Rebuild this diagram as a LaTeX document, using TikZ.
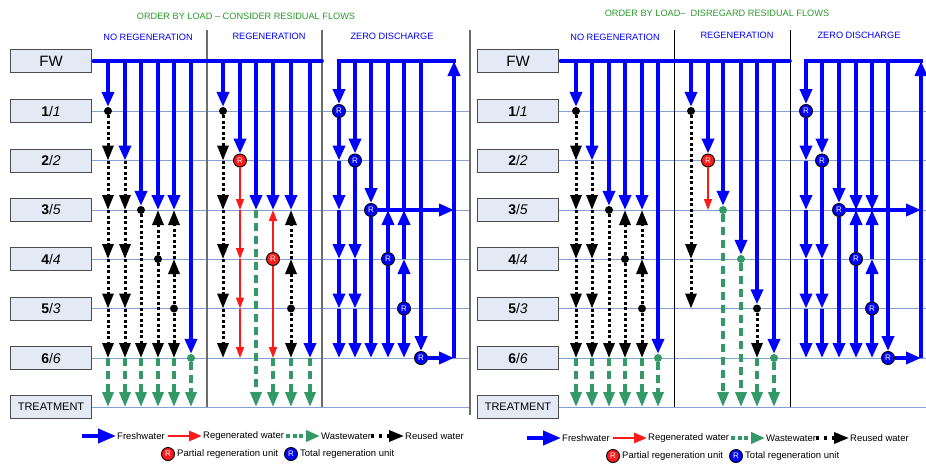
\documentclass[tikz,border=0pt]{standalone}
\usepackage{fontspec}
\setmainfont{Liberation Sans}
\usetikzlibrary{arrows.meta}

\definecolor{fwblue}{RGB}{0,0,255}
\definecolor{wgreen}{RGB}{51,153,102}
\definecolor{rowline}{RGB}{130,160,210}
\definecolor{boxfill}{RGB}{228,234,245}
\definecolor{regred}{RGB}{255,25,25}
\definecolor{hdrgreen}{RGB}{40,155,40}

\tikzset{
  fresh/.style={draw=fwblue, line width=3.6pt, -{Triangle[length=15pt,width=12pt]}},
  freshline/.style={draw=fwblue, line width=3.6pt},
  reuse/.style={draw=black, line width=3pt, dash pattern=on 3pt off 2.5pt, -{Triangle[length=15pt,width=11pt]}},
  regen/.style={draw=regred, line width=1.3pt, -{Triangle[length=11pt,width=8pt]}},
  waste/.style={draw=wgreen, line width=3.4pt, dash pattern=on 8pt off 5pt, -{Triangle[length=15pt,width=11pt]}},
  legfresh/.style={draw=fwblue, line width=4pt, -{Triangle[length=18pt,width=14pt]}},
  legregen/.style={draw=regred, line width=2.8pt, -{Triangle[length=13pt,width=10pt]}},
  legwaste/.style={draw=wgreen, line width=4pt, dash pattern=on 4pt off 2.5pt, -{Triangle[length=14pt,width=11pt]}},
  legreuse/.style={draw=black, line width=3.2pt, dash pattern=on 3.2pt off 5pt, -{Triangle[length=15pt,width=11pt]}},
  rowln/.style={draw=rowline, line width=0.9pt},
  ldiv/.style={draw=gray!85!black, line width=1.1pt},
  rdiv/.style={draw=black, line width=0.9pt},
  labelbox/.style={draw=gray!60!black, fill=boxfill, minimum width=81pt, minimum height=23pt, inner sep=0pt, font=\fontsize{14}{14}\selectfont},
  blackdot/.style={circle, fill=black, inner sep=0pt, minimum size=8pt},
  greendot/.style={circle, fill=wgreen, inner sep=0pt, minimum size=8pt},
  unitR/.style={circle, draw=black, line width=0.9pt, inner sep=0pt, minimum size=13pt, text=white, font=\fontsize{8}{8}\selectfont},
  partR/.style={unitR, fill=regred},
  totalR/.style={unitR, fill=fwblue},
  hdr/.style={text=hdrgreen, font=\fontsize{9.2}{9.2}\selectfont},
  subhdr/.style={text=fwblue, font=\fontsize{9.2}{9.2}\selectfont},
  legtext/.style={font=\fontsize{9.5}{9.5}\selectfont, anchor=west, inner sep=0pt},
}

% No-regeneration block (#1 = panel prefix)
\newcommand\drawNoRegen[1]{%
  \node[blackdot] (#1a1-dot) at (#1a1-1) {};
  \node[blackdot] (#1a3-dot) at (#1a3-3) {};
  \node[blackdot] (#1a4-dot) at (#1a4-4) {};
  \node[blackdot] (#1a5-dot) at (#1a5-5) {};
  \node[greendot] (#1a6-dot) at (#1a6-6) {};
  \draw[fresh] (#1a1-F) -- (#1a1-dot);
  \draw[fresh] (#1a2-F) -- (#1a2-2);
  \draw[fresh] (#1a3-F) -- (#1a3-dot);
  \draw[fresh] (#1a4-F) -- (#1a4-3);
  \draw[fresh] (#1a5-F) -- (#1a5-3);
  \draw[fresh] (#1a6-F) -- (#1a6-dot);
  \draw[reuse] (#1a1-dot) -- (#1a1-2);
  \foreach \i/\j in {2/3,3/4,4/5,5/6}{%
    \draw[reuse] (#1a1-\i) -- (#1a1-\j);
    \draw[reuse] (#1a2-\i) -- (#1a2-\j);}
  \draw[reuse] (#1a3-dot) -- (#1a3-6);
  \draw[reuse] (#1a4-dot) -- (#1a4-3);
  \draw[reuse] (#1a4-dot) -- (#1a4-6);
  \draw[reuse] (#1a5-dot) -- (#1a5-4);
  \draw[reuse] (#1a5-4) -- (#1a5-3);
  \draw[reuse] (#1a5-dot) -- (#1a5-6);
  \foreach \k in {1,...,5} \draw[waste] (#1a\k-6) -- (#1a\k-T);
  \draw[waste] (#1a6-dot) -- (#1a6-T);
}

% Zero-discharge block (#1 = panel prefix, #2 = style of the feeds into row 3)
\newcommand\drawZero[2]{%
  \foreach \k in {1,...,6} \node[totalR] (#1z\k-u) at (#1z\k-\k) {R};
  \draw[freshline, line cap=rect] (#1z1-F) -- (#1z7-F);
  \draw[fresh] (#1z1-F) -- (#1z1-u);
  \draw[fresh] (#1z1-u) -- (#1z1-2);
  \foreach \i/\j in {2/3,3/4,4/5,5/6} \draw[fresh] (#1z1-\i) -- (#1z1-\j);
  \draw[fresh] (#1z2-F) -- (#1z2-u);
  \draw[fresh] (#1z2-u) -- (#1z2-4);
  \draw[fresh] (#1z2-4) -- (#1z2-5);
  \draw[fresh] (#1z2-5) -- (#1z2-6);
  \draw[fresh] (#1z3-F) -- (#1z3-u);
  \draw[fresh] (#1z3-u) -- (#1z7-3);
  \draw[fresh] (#1z3-u) -- (#1z3-6);
  \draw[#2] (#1z4-F) -- (#1z4-3);
  \draw[fresh] (#1z4-u) -- (#1z4-3);
  \draw[fresh] (#1z4-u) -- (#1z4-6);
  \draw[#2] (#1z5-F) -- (#1z5-3);
  \draw[fresh] (#1z5-u) -- (#1z5-4);
  \draw[fresh] (#1z5-4) -- (#1z5-3);
  \draw[fresh] (#1z5-u) -- (#1z5-6);
  \draw[fresh] (#1z6-F) -- (#1z6-u);
  \draw[fresh] (#1z6-u) -- (#1z7-6);
  \draw[fresh] (#1z7-6) -- (#1z7-F);
}

% Legend (#1 = prefix, #2,#3 = origin)
\newcommand\drawLegend[3]{%
  \begin{scope}[shift={(#2,#3)}]
    \coordinate (#1-lf0) at (0,0);   \coordinate (#1-lf1) at (34,0);
    \coordinate (#1-lr0) at (86,0);  \coordinate (#1-lr1) at (120,0);
    \coordinate (#1-lw0) at (204,0); \coordinate (#1-lw1) at (238,0);
    \coordinate (#1-lu0) at (289,0); \coordinate (#1-lu1) at (322,0);
    \draw[legfresh] (#1-lf0) -- (#1-lf1);
    \node[legtext] (#1-tf) at (35,0) {Freshwater};
    \draw[legregen] (#1-lr0) -- (#1-lr1);
    \node[legtext] (#1-tr) at (121,0) {Regenerated water};
    \draw[legwaste] (#1-lw0) -- (#1-lw1);
    \node[legtext] (#1-tw) at (239,0) {Wastewater};
    \draw[legreuse] (#1-lu0) -- (#1-lu1);
    \node[legtext] (#1-tu) at (323,0) {Reused water};
    \node[partR] (#1-lp) at (86,18) {R};
    \node[legtext] (#1-tp) at (95,18) {Partial regeneration unit};
    \node[totalR] (#1-lt) at (209,18) {R};
    \node[legtext] (#1-tt) at (218,18) {Total regeneration unit};
  \end{scope}}

\begin{document}
\begin{tikzpicture}[x=1pt,y=-1pt]
\useasboundingbox (0,0) rectangle (926,463);

% grid of column/row positions
\foreach \c/\x in {La1/108,La2/125,La3/141,La4/158,La5/174,La6/191,
                   Lb1/223,Lb2/240,Lb3/256,Lb4/273,Lb5/291,Lb6/310,
                   Lz1/339,Lz2/355,Lz3/371,Lz4/388,Lz5/404,Lz6/421,Lz7/454,
                   Ld1/207,Ld2/322,Le/470,
                   Ra1/576,Ra2/592,Ra3/609,Ra4/625,Ra5/642,Ra6/658,
                   Rb1/691,Rb2/708,Rb3/723,Rb4/741,Rb5/757,Rb6/774,
                   Rz1/806,Rz2/822,Rz3/839,Rz4/856,Rz5/872,Rz6/888,Rz7/921,
                   Rd1/674,Rd2/790,Re/926}{
  \foreach \r/\y in {H/30,F/61,1/111,2/160.5,3/210,4/259,5/308.5,6/358,T/407}{
    \coordinate (\c-\r) at (\x,\y);}}
\coordinate (sepbot) at (470,415);

% stage boxes
\foreach \p/\bx in {L/51,R/518}{
  \node[labelbox, font=\fontsize{15}{15}\selectfont] (\p-boxF) at (\bx,61) {FW};
  \foreach \r/\y/\s in {1/111/1,2/160.5/2,3/210/5,4/259/4,5/308.5/3,6/358/6}
    \node[labelbox] (\p-box\r) at (\bx,\y) {\textbf{\r}/\textit{\s}};
  \node[labelbox, font=\fontsize{11}{11}\selectfont] (\p-boxT) at (\bx,407) {TREATMENT};
}

% row lines
\foreach \p/\e in {L/Le,R/Re}
  \foreach \r in {1,2,3,4,5,6,T}
    \draw[rowln] (\p-box\r.east) -- (\e-\r);

% section dividers
\foreach \d in {Ld1,Ld2} \draw[ldiv] (\d-H) -- (\d-T);
\foreach \d in {Rd1,Rd2} \draw[rdiv] (\d-H) -- (\d-T);
\draw[ldiv] (Le-H) -- (sepbot);

% titles
\node[hdr] (L-title) at (246,16) {ORDER BY LOAD – CONSIDER RESIDUAL FLOWS};
\node[hdr] (R-title) at (717,13) {ORDER BY LOAD–\ \ DISREGARD RESIDUAL FLOWS};
\node[subhdr] (L-s1) at (148,37) {NO REGENERATION};
\node[subhdr] (L-s2) at (269,36) {REGENERATION};
\node[subhdr] (L-s3) at (392,36) {ZERO DISCHARGE};
\node[subhdr] (R-s1) at (615,37) {NO REGENERATION};
\node[subhdr] (R-s2) at (737,35) {REGENERATION};
\node[subhdr] (R-s3) at (859,35) {ZERO DISCHARGE};

% freshwater mains
\draw[freshline, line cap=round, shorten <=1.8pt] (L-boxF.east) -- (Ld2-F);
\draw[freshline, line cap=round, shorten <=1.8pt] (R-boxF.east) -- (Rd2-F);

% no regeneration
\drawNoRegen{L}
\drawNoRegen{R}

% regeneration, residual flows considered
\node[blackdot] (Lb1-dot) at (Lb1-1) {};
\node[partR] (Lb2-u) at (Lb2-2) {R};
\node[partR] (Lb4-u) at (Lb4-4) {R};
\node[blackdot] (Lb5-dot) at (Lb5-5) {};
\draw[fresh] (Lb1-F) -- (Lb1-dot);
\draw[fresh] (Lb2-F) -- (Lb2-u);
\draw[fresh] (Lb3-F) -- (Lb3-3);
\draw[fresh] (Lb4-F) -- (Lb4-3);
\draw[fresh] (Lb5-F) -- (Lb5-3);
\draw[fresh] (Lb6-F) -- (Lb6-6);
\draw[reuse] (Lb1-dot) -- (Lb1-2);
\foreach \i/\j in {2/3,3/4,4/5,5/6} \draw[reuse] (Lb1-\i) -- (Lb1-\j);
\draw[regen] (Lb2-u) -- (Lb2-3);
\foreach \i/\j in {3/4,4/5,5/6} \draw[regen] (Lb2-\i) -- (Lb2-\j);
\draw[waste] (Lb3-3) -- (Lb3-T);
\draw[regen] (Lb4-u) -- (Lb4-3);
\draw[regen] (Lb4-u) -- (Lb4-6);
\draw[reuse] (Lb5-dot) -- (Lb5-4);
\draw[reuse] (Lb5-4) -- (Lb5-3);
\draw[reuse] (Lb5-dot) -- (Lb5-6);
\foreach \k in {4,5,6} \draw[waste] (Lb\k-6) -- (Lb\k-T);

% regeneration, residual flows disregarded
\node[blackdot] (Rb1-dot) at (Rb1-1) {};
\node[partR] (Rb2-u) at (Rb2-2) {R};
\node[greendot] (Rb3-dot) at (Rb3-3) {};
\node[greendot] (Rb4-dot) at (Rb4-4) {};
\node[blackdot] (Rb5-dot) at (Rb5-5) {};
\node[greendot] (Rb6-dot) at (Rb6-6) {};
\draw[fresh] (Rb1-F) -- (Rb1-dot);
\draw[fresh] (Rb2-F) -- (Rb2-u);
\draw[fresh] (Rb3-F) -- (Rb3-dot);
\draw[fresh] (Rb4-F) -- (Rb4-dot);
\draw[fresh] (Rb5-F) -- (Rb5-dot);
\draw[fresh] (Rb6-F) -- (Rb6-dot);
\draw[reuse] (Rb1-dot) -- (Rb1-4);
\draw[reuse] (Rb1-4) -- (Rb1-5);
\draw[regen] (Rb2-u) -- (Rb2-3);
\draw[waste] (Rb3-dot) -- (Rb3-T);
\draw[waste] (Rb4-dot) -- (Rb4-T);
\draw[reuse] (Rb5-dot) -- (Rb5-6);
\draw[waste] (Rb5-6) -- (Rb5-T);
\draw[waste] (Rb6-dot) -- (Rb6-T);

% zero discharge
\drawZero{L}{freshline}
\drawZero{R}{fresh}

% legends
\drawLegend{L}{82}{436}
\drawLegend{R}{527}{438}
\end{tikzpicture}
\end{document}
